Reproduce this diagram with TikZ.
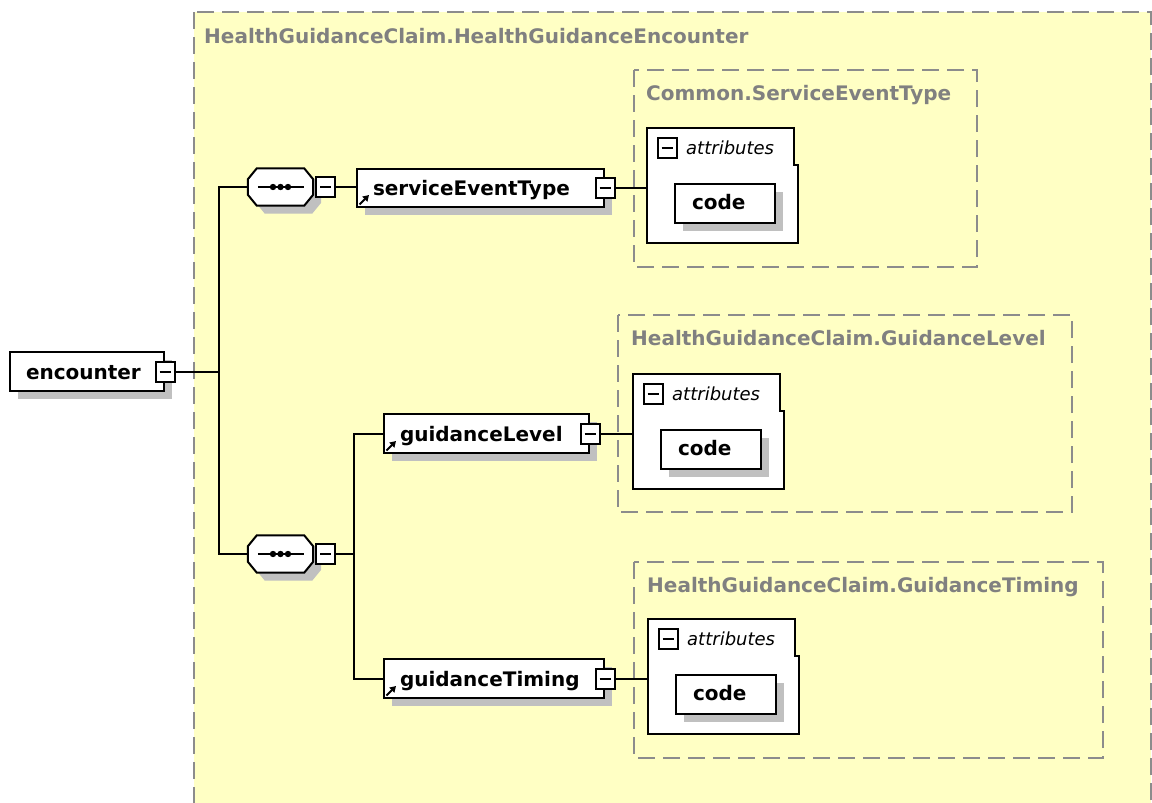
\documentclass[tikz,border=0pt]{standalone}
\usepackage{fontspec}
\setmainfont{DejaVu Sans}
\usetikzlibrary{arrows.meta,shadows}
\definecolor{bgyel}{RGB}{255,255,196}
\definecolor{dashgray}{RGB}{140,140,140}
\definecolor{titlegray}{RGB}{128,128,128}
\definecolor{shadowgray}{RGB}{192,192,192}
\newcommand{\lbox}[2]{\makebox[#1][l]{#2}}
\tikzset{
  conn/.style={line width=2pt, draw=black},
  boxline/.style={line width=2pt, draw=black},
  sh/.style={drop shadow={shadow xshift=8pt, shadow yshift=-8pt, fill=shadowgray, opacity=1}},
  elem/.style={draw, line width=2pt, fill=white, inner sep=0pt, anchor=north west, sh,
    font=\fontsize{20}{24}\selectfont\bfseries, text height=15pt, text depth=0pt},
  codebox/.style={draw, line width=2pt, fill=white, inner sep=0pt, anchor=north west, sh,
    minimum width=100pt, minimum height=39pt,
    font=\fontsize{20}{24}\selectfont\bfseries, text height=11.5pt, text depth=0pt},
  tog/.style={draw, line width=2pt, fill=white, minimum width=19pt, minimum height=20pt, inner sep=0pt,
    path picture={\draw[line width=2pt] ([xshift=4pt]path picture bounding box.west) -- ([xshift=-4pt]path picture bounding box.east);}},
  grp/.style={draw=dashgray, line width=2pt, dash pattern=on 17pt off 8pt},
  grptitle/.style={anchor=base west, text=titlegray, font=\fontsize{20}{24}\selectfont\bfseries, inner sep=0pt},
  attlbl/.style={anchor=base west, font=\fontsize{18}{22}\selectfont\itshape, inner sep=0pt},
  attarea/.style={minimum width=151pt, minimum height=115pt, inner sep=0pt, anchor=north west},
  seqarea/.style={minimum width=65pt, minimum height=37pt, inner sep=0pt},
  shadowfill/.style={fill=shadowgray, draw=none},
  octdraw/.style={draw=black, line width=2pt, fill=white},
  refarrow/.style={line width=2pt, -{Triangle[length=6pt,width=7pt]}},
}
\begin{document}
\begin{tikzpicture}[x=1pt,y=-1pt]
\useasboundingbox (0,0) rectangle (1152,803);
\clip (0,0) rectangle (1152,803);
\fill[white] (0,0) rectangle (1152,803);

% outer group
\path[grp, fill=bgyel] (194,12) rectangle (1151,840);
\node[grptitle] (outerT) at (204,43) {HealthGuidanceClaim.HealthGuidanceEncounter};

% inner type groups
\path[grp] (634,70) rectangle (977,267);
\node[grptitle] (cstT) at (646,100) {Common.ServiceEventType};
\path[grp] (618,315) rectangle (1072,512);
\node[grptitle] (cglT) at (631,345) {HealthGuidanceClaim.GuidanceLevel};
\path[grp] (634,562) rectangle (1103,758);
\node[grptitle] (cgtT) at (647,592) {HealthGuidanceClaim.GuidanceTiming};

% root element
\node[elem, minimum width=154pt, minimum height=39pt] (enc) at (9,351) {\lbox{122pt}{encounter}};
\node[tog] (encT) at (enc.east) {};

% sequences
\node[seqarea] (seq1) at (280.5,187) {};
\node[seqarea] (seq2) at (280.5,554) {};
\foreach \s in {seq1,seq2} {
  \foreach \o/\st in {8/shadowfill,0/octdraw} {
    \path[\st] ([xshift=9pt+\o pt,yshift=-\o pt]\s.north west)
      -- ([xshift=-9pt+\o pt,yshift=-\o pt]\s.north east)
      -- ([xshift=\o pt,yshift=-11pt-\o pt]\s.north east)
      -- ([xshift=\o pt,yshift=11pt-\o pt]\s.south east)
      -- ([xshift=-9pt+\o pt,yshift=-\o pt]\s.south east)
      -- ([xshift=9pt+\o pt,yshift=-\o pt]\s.south west)
      -- ([xshift=\o pt,yshift=11pt-\o pt]\s.south west)
      -- ([xshift=\o pt,yshift=-11pt-\o pt]\s.north west) -- cycle;
  }
  \draw[line width=2pt] ([xshift=10pt]\s.west) -- ([xshift=-9pt]\s.east);
  \foreach \dx in {-7.5,0,7.5} \fill ([xshift=\dx pt]\s.center) circle (3.2pt);
}
\node[tog] (seq1T) at (325.5,187) {};
\node[tog] (seq2T) at (325.5,554) {};

% child elements
\node[elem, minimum width=247pt, minimum height=38pt] (set) at (356,168) {\lbox{215pt}{serviceEventType}};
\node[elem, minimum width=205pt, minimum height=39pt] (gl) at (383,413) {\lbox{173pt}{guidanceLevel}};
\node[elem, minimum width=220pt, minimum height=39pt] (gt) at (383,658) {\lbox{188pt}{guidanceTiming}};
\foreach \e in {set,gl,gt} {
  \draw[refarrow] ([xshift=3.5pt,yshift=3.5pt]\e.south west) -- ([xshift=13pt,yshift=13pt]\e.south west);
}
\node[tog] (setT) at (set.east) {};
\node[tog] (glT) at (gl.east) {};
\node[tog] (gtT) at (gt.east) {};

% attribute boxes
\node[attarea] (att1) at (647,128) {};
\node[attarea] (att2) at (633,374) {};
\node[attarea] (att3) at (648,619) {};
\foreach \a/\c in {att1/code1,att2/code2,att3/code3} {
  \draw[boxline, fill=white] (\a.north west) -- ([xshift=-4pt]\a.north east)
    -- ([xshift=-4pt,yshift=-37pt]\a.north east) -- ([yshift=-37pt]\a.north east)
    -- (\a.south east) -- (\a.south west) -- cycle;
  \node[tog] (\a T) at ([xshift=20pt,yshift=-20pt]\a.north west) {};
  \node[attlbl] (\a L) at ([xshift=39pt,yshift=-26pt]\a.north west) {attributes};
  \node[codebox] (\c) at ([xshift=27pt,yshift=-55pt]\a.north west) {\lbox{66pt}{code}};
}

% connectors
\coordinate (bus1) at ([xshift=-29pt]seq1.west |- encT.east);
\coordinate (bus2) at ([xshift=-29pt]gl.west |- seq2T.east);
\draw[conn] (encT.east) -- (bus1);
\draw[conn] (seq1.west) -| (bus1);
\draw[conn] (seq2.west) -| (bus1);
\draw[conn] (seq1T.east) -- (seq1T.east -| set.west);
\draw[conn] (seq2T.east) -- (bus2);
\draw[conn] (gl.west) -| (bus2);
\draw[conn] (gt.west) -| (bus2);
\draw[conn] (setT.east) -- (setT.east -| att1.west);
\draw[conn] (glT.east) -- (glT.east -| att2.west);
\draw[conn] (gtT.east) -- (gtT.east -| att3.west);
\end{tikzpicture}
\end{document}
